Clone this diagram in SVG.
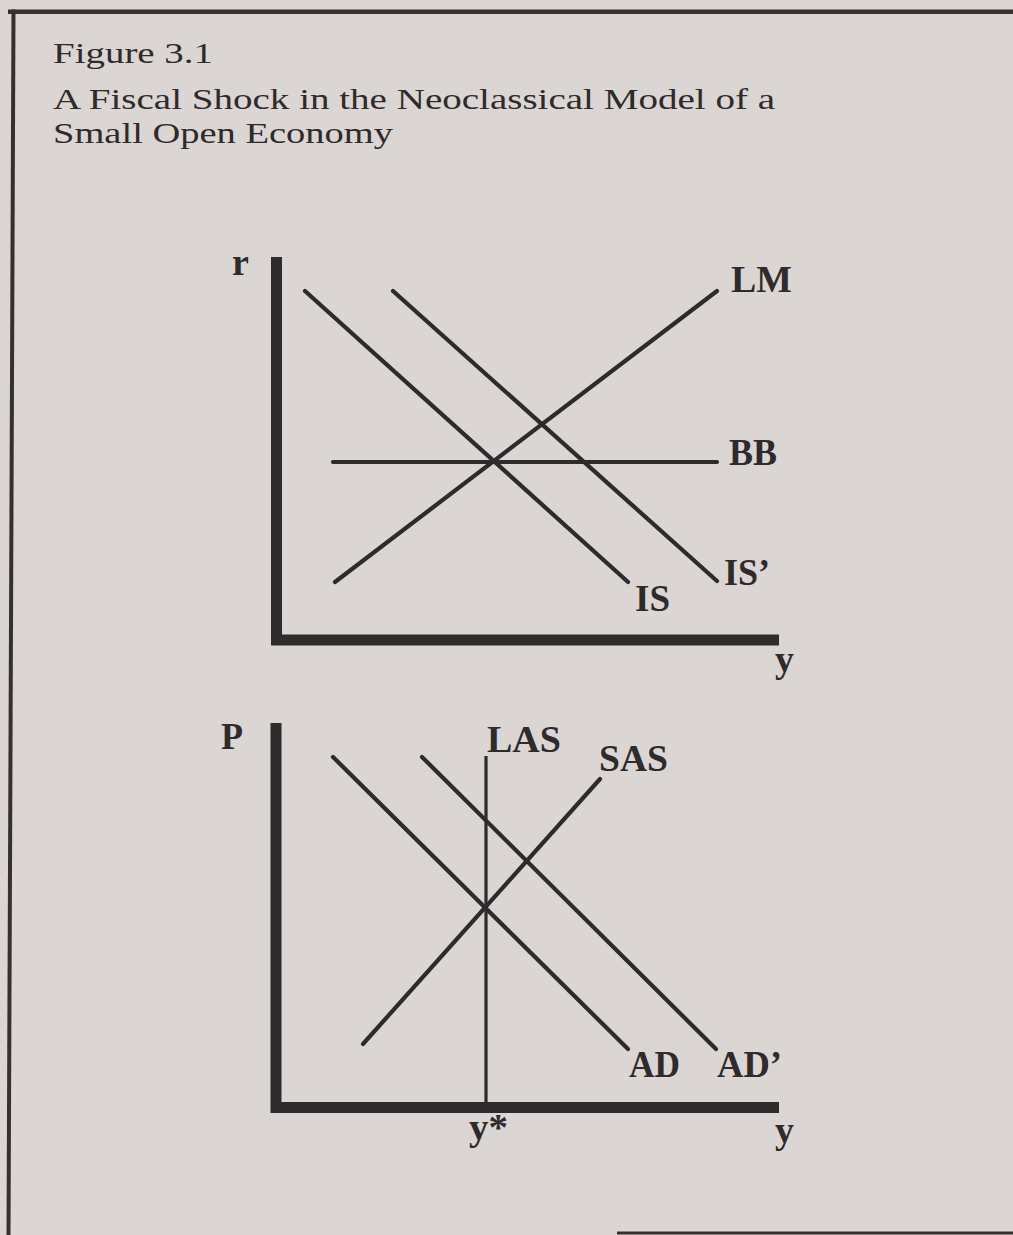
<svg xmlns="http://www.w3.org/2000/svg" width="1013" height="1235" viewBox="0 0 1013 1235">
  <style>
    .title { font-family: "Liberation Serif", "Times New Roman", serif; font-size: 30px; fill: #2f2a2b; }
    .lbl { font-family: "Liberation Serif", "Times New Roman", serif; font-size: 38px; font-weight: bold; fill: #2f2a2b; }
    .axis { stroke: #2f2a2b; stroke-width: 11; fill: none; stroke-linecap: butt; stroke-linejoin: miter; }
    .curve { stroke: #2f2a2b; stroke-width: 4.2; fill: none; stroke-linecap: round; }
    .thin { stroke: #2f2a2b; stroke-width: 3.2; fill: none; }
    .frame { stroke: #363031; fill: none; }
  </style>
  <rect x="0" y="0" width="1013" height="1235" fill="#dbd6d3"/>

  <g id="frame">
    <line class="frame" x1="8" y1="11.7" x2="1013" y2="11.7" stroke-width="4.6"/>
    <line class="frame" x1="13.5" y1="9.5" x2="8.5" y2="1235" stroke-width="4"/>
    <line class="frame" x1="617" y1="1233" x2="1013" y2="1233" stroke-width="3"/>
  </g>

  <g id="title">
    <text class="title" x="53" y="63" textLength="160" lengthAdjust="spacingAndGlyphs">Figure 3.1</text>
    <text class="title" x="53" y="109" textLength="722" lengthAdjust="spacingAndGlyphs">A Fiscal Shock in the Neoclassical Model of a</text>
    <text class="title" x="53" y="143" textLength="340" lengthAdjust="spacingAndGlyphs">Small Open Economy</text>
  </g>

  <!-- Upper panel: IS-LM-BB -->
  <g id="upper-axes">
    <path class="axis" d="M276.5,257 V640 H779"/>
    <text class="lbl" x="232" y="275" font-size="36">r</text>
    <text class="lbl" x="775" y="672">y</text>
  </g>

  <g id="connectors">
    <g id="upper-curves">
      <line id="IS-line" class="curve" x1="305" y1="291" x2="628" y2="582"/>
      <line id="ISp-line" class="curve" x1="393" y1="291" x2="717" y2="581"/>
      <line id="BB-line" class="curve" x1="333" y1="462" x2="717" y2="462"/>
      <line id="LM-line" class="curve" x1="335" y1="582" x2="717" y2="291"/>
    </g>
    <g id="lower-curves">
      <line id="AD-line" class="curve" x1="333" y1="757" x2="628" y2="1049"/>
      <line id="ADp-line" class="curve" x1="422" y1="757" x2="716" y2="1049"/>
      <line id="SAS-line" class="curve" x1="363" y1="1044" x2="600" y2="779"/>
      <line id="LAS-line" class="thin" x1="486" y1="756" x2="486" y2="1104"/>
    </g>
  </g>

  <g id="LM"><text class="lbl" x="731" y="292" textLength="61" lengthAdjust="spacingAndGlyphs">LM</text></g>
  <g id="BB"><text class="lbl" x="729" y="465" textLength="48" lengthAdjust="spacingAndGlyphs">BB</text></g>
  <g id="ISp"><text class="lbl" x="724" y="585" textLength="46" lengthAdjust="spacingAndGlyphs">IS’</text></g>
  <g id="IS"><text class="lbl" x="635" y="611" textLength="35" lengthAdjust="spacingAndGlyphs">IS</text></g>

  <!-- Lower panel: AD-AS -->
  <g id="lower-axes">
    <path class="axis" d="M276,723 V1107.5 H779"/>
    <text class="lbl" x="221" y="749" textLength="22" lengthAdjust="spacingAndGlyphs">P</text>
    <text class="lbl" x="775" y="1143">y</text>
  </g>

  <g id="LAS"><text class="lbl" x="487" y="752" textLength="74" lengthAdjust="spacingAndGlyphs">LAS</text></g>
  <g id="SAS"><text class="lbl" x="599" y="771" textLength="69" lengthAdjust="spacingAndGlyphs">SAS</text></g>
  <g id="AD"><text class="lbl" x="629" y="1077" textLength="51" lengthAdjust="spacingAndGlyphs">AD</text></g>
  <g id="ADp"><text class="lbl" x="717" y="1077" textLength="65" lengthAdjust="spacingAndGlyphs">AD’</text></g>
  <g id="ystar"><text class="lbl" x="469" y="1140" textLength="39" lengthAdjust="spacingAndGlyphs">y*</text></g>
</svg>
